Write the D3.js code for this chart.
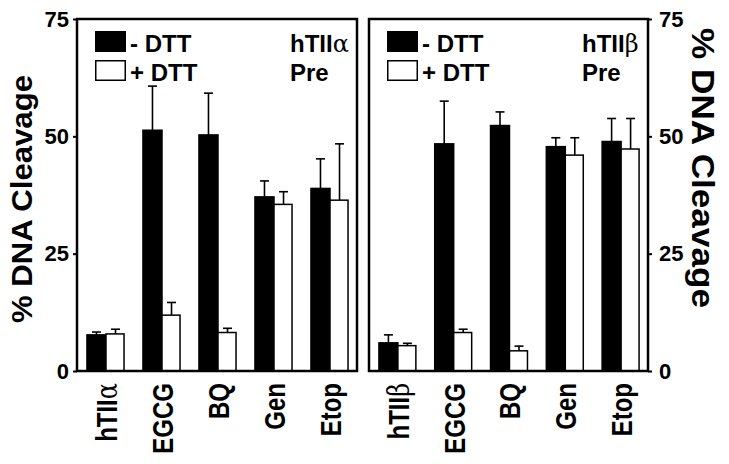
<!DOCTYPE html>
<html>
<head>
<meta charset="utf-8">
<script src="https://cdn.jsdelivr.net/npm/d3@7"></script>
<style>
  body { margin: 0; background: #fff; }
  text { font-family: "Liberation Sans", Arial, sans-serif; font-weight: bold; }
</style>
</head>
<body>
<svg id="chart" width="729" height="464"></svg>
<script>
// values
var drugs = ["EGCG", "BQ", "Gen", "Etop"];
var yTicks = [0, 25, 50, 75];

var alphaMinus = [7.7, 51.3, 50.3, 37.1, 38.9];
var alphaMinusErr = [0.6, 9.4, 8.9, 3.4, 6.3];
var alphaPlus = [7.9, 11.9, 8.2, 35.5, 36.4];
var alphaPlusErr = [1.0, 2.7, 0.9, 2.7, 12.0];

var betaMinus = [6.0, 48.4, 52.3, 47.8, 48.9];
var betaMinusErr = [1.7, 9.1, 2.9, 1.9, 4.9];
var betaPlus = [5.4, 8.2, 4.3, 46.0, 47.3];
var betaPlusErr = [0.5, 0.7, 1.0, 3.7, 6.5];

var svg = d3.select("#chart");
var plotTop = 19, plotBottom = 371;

var y = d3.scaleLinear().domain([0, 75]).range([plotBottom, plotTop]);

function panel(x0, x1, enzyme, greek, minus, minusErr, plus, plusErr, side) {
  var cats = [enzyme].concat(drugs);
  var x = d3.scaleBand().domain(cats).range([x0 + 1, x1 + 1]);
  var bw = x.bandwidth() * 0.34;

  var g = svg.append("g");

  var rows = cats.map(function(c, i) {
    return {cat: c, m: minus[i], me: minusErr[i], p: plus[i], pe: plusErr[i]};
  });

  // error bars (behind the bars)
  function err(val, e, dx) {
    g.selectAll(null).data(rows).enter().append("line")
      .attr("x1", function(d){ return x(d.cat) + x.bandwidth()/2 + dx; })
      .attr("x2", function(d){ return x(d.cat) + x.bandwidth()/2 + dx; })
      .attr("y1", function(d){ return y(d[val]); })
      .attr("y2", function(d){ return y(d[val] + d[e]); })
      .attr("stroke", "#000").attr("stroke-width", 1.6);
    g.selectAll(null).data(rows).enter().append("line")
      .attr("x1", function(d){ return x(d.cat) + x.bandwidth()/2 + dx - 4.5; })
      .attr("x2", function(d){ return x(d.cat) + x.bandwidth()/2 + dx + 4.5; })
      .attr("y1", function(d){ return y(d[val] + d[e]); })
      .attr("y2", function(d){ return y(d[val] + d[e]); })
      .attr("stroke", "#000").attr("stroke-width", 1.6);
  }
  err("m", "me", -bw/2);
  err("p", "pe", bw/2);

  g.selectAll(null).data(rows).enter().append("rect")
    .attr("x", function(d){ return x(d.cat) + x.bandwidth()/2 - bw; })
    .attr("y", function(d){ return y(d.m); })
    .attr("width", bw)
    .attr("height", function(d){ return plotBottom - y(d.m); })
    .attr("fill", "#000").attr("stroke", "#000").attr("stroke-width", 1.5);

  g.selectAll(null).data(rows).enter().append("rect")
    .attr("x", function(d){ return x(d.cat) + x.bandwidth()/2; })
    .attr("y", function(d){ return y(d.p); })
    .attr("width", bw - 1)
    .attr("height", function(d){ return plotBottom - y(d.p); })
    .attr("fill", "#fff").attr("stroke", "#000").attr("stroke-width", 1.5);

  // frame
  g.append("rect")
    .attr("x", x0).attr("y", plotTop)
    .attr("width", x1 - x0).attr("height", plotBottom - plotTop)
    .attr("fill", "none").attr("stroke", "#000").attr("stroke-width", 2.5);

  // y axis
  var axis = side == "left" ? d3.axisLeft(y) : d3.axisRight(y);
  axis.tickValues(yTicks).tickSize(4).tickPadding(side == "left" ? 4 : 7);
  var ag = g.append("g")
    .attr("transform", "translate(" + (side == "left" ? x0 : x1) + ",0)")
    .call(axis);
  ag.select(".domain").remove();
  ag.selectAll("line").attr("stroke-width", 2);
  ag.selectAll("text").style("font-size", "22px").style("font-weight", "bold")
    .style("font-family", "'Liberation Sans', Arial, sans-serif").attr("fill", "#000");

  // category labels (glyphs look wider than long in the figure)
  var lab = g.selectAll(null).data(cats).enter().append("text")
    .attr("transform", function(d){
      return "translate(" + (x(d) + x.bandwidth()/2) + ",383) rotate(-90) scale(0.8,1)";
    })
    .attr("dy", "0.36em")
    .attr("text-anchor", "end")
    .style("font-size", "30px");
  lab.each(function(d, i) {
    var t = d3.select(this);
    if (i == 0) {
      t.append("tspan").text(d.slice(0, -1));
      t.append("tspan").text(greek)
        .style("font-family", "'DejaVu Serif', serif").style("font-weight", "normal");
    } else {
      t.text(d);
    }
  });

  // legend
  var lx = x0 + 18;
  g.append("rect").attr("x", lx).attr("y", 31).attr("width", 31).attr("height", 21)
    .attr("fill", "#000");
  g.append("rect").attr("x", lx + 0.75).attr("y", 60.75).attr("width", 29.5).attr("height", 19.5)
    .attr("fill", "#fff").attr("stroke", "#000").attr("stroke-width", 1.5);
  g.append("text").attr("x", lx + 35).attr("y", 52).style("font-size", "24px").text("- DTT");
  g.append("text").attr("x", lx + 35).attr("y", 81).style("font-size", "24px").text("+ DTT");

  var tx = x0 + 213;
  var en = g.append("text").attr("x", tx).attr("y", 52).style("font-size", "24px");
  en.append("tspan").text(enzyme.slice(0, -1));
  en.append("tspan").text(greek)
    .style("font-family", "'DejaVu Serif', serif").style("font-weight", "normal");
  g.append("text").attr("x", tx).attr("y", 81).style("font-size", "24px").text("Pre");
}

panel(77, 357, "hTIIα", "α", alphaMinus, alphaMinusErr, alphaPlus, alphaPlusErr, "left");
panel(369, 648, "hTIIβ", "β", betaMinus, betaMinusErr, betaPlus, betaPlusErr, "right");

// axis titles
svg.append("text")
  .attr("transform", "translate(22,199) rotate(-90)")
  .attr("dy", "0.35em")
  .attr("text-anchor", "middle")
  .attr("textLength", 248).attr("lengthAdjust", "spacingAndGlyphs")
  .style("font-size", "29px")
  .text("% DNA Cleavage");

svg.append("text")
  .attr("transform", "translate(703,168) rotate(90)")
  .attr("dy", "0.35em")
  .attr("text-anchor", "middle")
  .attr("textLength", 280).attr("lengthAdjust", "spacingAndGlyphs")
  .style("font-size", "31px")
  .text("% DNA Cleavage");
</script>
</body>
</html>
